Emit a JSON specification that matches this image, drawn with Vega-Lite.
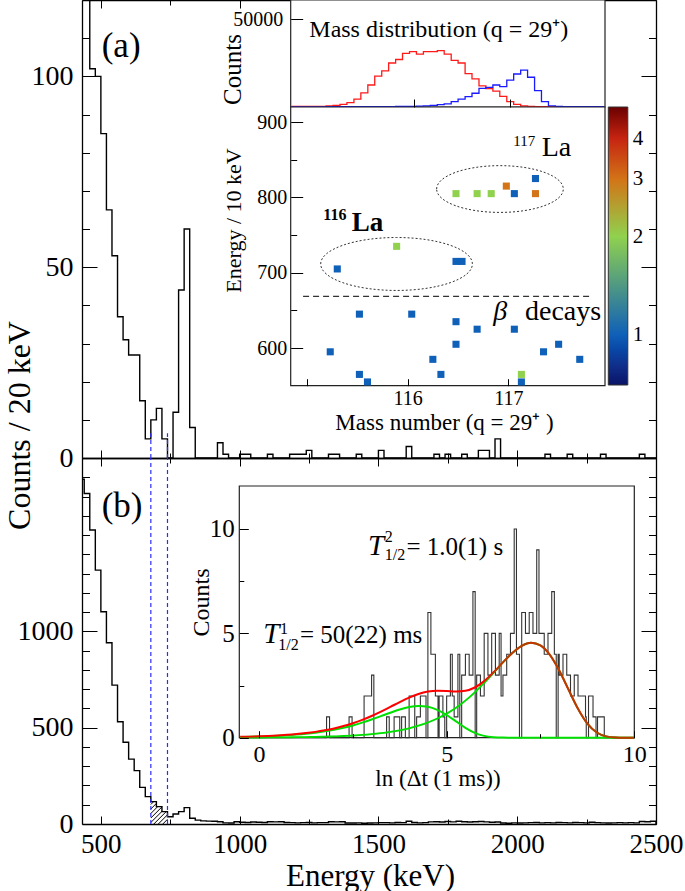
{
"$schema": "https://vega.github.io/schema/vega-lite/v6.json",
"width": 574, "height": 824,
"autosize": {"type": "none"},
"padding": {"left": 82, "top": 0, "right": 29, "bottom": 67},
"background": "white",
"config": {
  "view": {"stroke": null},
  "font": "Liberation Serif",
  "axis": {"grid": false, "labelFont": "Liberation Serif", "titleFont": "Liberation Serif", "labelColor": "black", "titleColor": "black", "tickColor": "black", "domainColor": "black", "titleFontWeight": "normal", "labelFlush": false, "labelOverlap": false, "tickWidth": 1, "domainWidth": 1.3},
  "legend": {"labelFont": "Liberation Serif", "labelColor": "black"},
  "text": {"font": "Liberation Serif", "color": "black"}
},
"datasets": {
  "histA": [{"E":420,"c":140},{"E":440,"c":140},{"E":460,"c":102},{"E":480,"c":100},{"E":500,"c":85},{"E":520,"c":65},{"E":540,"c":53},{"E":560,"c":37},{"E":580,"c":31},{"E":600,"c":27},{"E":620,"c":27},{"E":640,"c":15},{"E":660,"c":5},{"E":680,"c":10},{"E":700,"c":13},{"E":720,"c":5},{"E":740,"c":0},{"E":760,"c":12},{"E":780,"c":44},{"E":800,"c":60},{"E":820,"c":8},{"E":840,"c":0},{"E":920,"c":4},{"E":940,"c":1},{"E":960,"c":0},{"E":1000,"c":1},{"E":1020,"c":1},{"E":1040,"c":0},{"E":1100,"c":1},{"E":1120,"c":0},{"E":1180,"c":1},{"E":1200,"c":1},{"E":1220,"c":1},{"E":1240,"c":2},{"E":1260,"c":0},{"E":1320,"c":1},{"E":1340,"c":1},{"E":1360,"c":0},{"E":1420,"c":1},{"E":1440,"c":0},{"E":1500,"c":2},{"E":1520,"c":0},{"E":1600,"c":3},{"E":1620,"c":0},{"E":1700,"c":1},{"E":1720,"c":0},{"E":1740,"c":1},{"E":1760,"c":0},{"E":1800,"c":1},{"E":1820,"c":0},{"E":1860,"c":2},{"E":1880,"c":2},{"E":1900,"c":0},{"E":1920,"c":5},{"E":1940,"c":0},{"E":2100,"c":1},{"E":2120,"c":0},{"E":2180,"c":1},{"E":2200,"c":0},{"E":2300,"c":1},{"E":2320,"c":0},{"E":2440,"c":1},{"E":2460,"c":0},{"E":2500,"c":0}],
  "histB": [{"E":420,"c":1790},{"E":440,"c":1716},{"E":460,"c":1526},{"E":480,"c":1318},{"E":500,"c":1102},{"E":520,"c":941},{"E":540,"c":721},{"E":560,"c":531},{"E":580,"c":424},{"E":600,"c":337},{"E":620,"c":277},{"E":640,"c":190},{"E":660,"c":142},{"E":680,"c":116},{"E":700,"c":90},{"E":720,"c":64},{"E":740,"c":38},{"E":760,"c":52},{"E":780,"c":64},{"E":800,"c":85},{"E":820,"c":30},{"E":840,"c":20},{"E":860,"c":16},{"E":880,"c":15},{"E":900,"c":14},{"E":920,"c":12},{"E":940,"c":6},{"E":960,"c":5},{"E":980,"c":12},{"E":1000,"c":9},{"E":1020,"c":8},{"E":1040,"c":10},{"E":1060,"c":9},{"E":1080,"c":8},{"E":1100,"c":12},{"E":1120,"c":11},{"E":1140,"c":12},{"E":1160,"c":8},{"E":1180,"c":7},{"E":1200,"c":6},{"E":1220,"c":7},{"E":1240,"c":8},{"E":1260,"c":6},{"E":1280,"c":7},{"E":1300,"c":7},{"E":1320,"c":12},{"E":1340,"c":11},{"E":1360,"c":12},{"E":1380,"c":5},{"E":1400,"c":5},{"E":1420,"c":6},{"E":1440,"c":4},{"E":1460,"c":5},{"E":1480,"c":6},{"E":1500,"c":7},{"E":1520,"c":7},{"E":1540,"c":6},{"E":1560,"c":8},{"E":1580,"c":7},{"E":1600,"c":14},{"E":1620,"c":8},{"E":1640,"c":6},{"E":1660,"c":7},{"E":1680,"c":11},{"E":1700,"c":12},{"E":1720,"c":10},{"E":1740,"c":13},{"E":1760,"c":11},{"E":1780,"c":14},{"E":1800,"c":12},{"E":1820,"c":10},{"E":1840,"c":12},{"E":1860,"c":13},{"E":1880,"c":11},{"E":1900,"c":9},{"E":1920,"c":10},{"E":1940,"c":5},{"E":1960,"c":4},{"E":1980,"c":6},{"E":2000,"c":5},{"E":2020,"c":6},{"E":2040,"c":7},{"E":2060,"c":8},{"E":2080,"c":6},{"E":2100,"c":7},{"E":2120,"c":6},{"E":2140,"c":8},{"E":2160,"c":7},{"E":2180,"c":6},{"E":2200,"c":8},{"E":2220,"c":7},{"E":2240,"c":6},{"E":2260,"c":9},{"E":2280,"c":7},{"E":2300,"c":6},{"E":2320,"c":5},{"E":2340,"c":6},{"E":2360,"c":7},{"E":2380,"c":6},{"E":2400,"c":7},{"E":2420,"c":6},{"E":2440,"c":13},{"E":2460,"c":12},{"E":2480,"c":14},{"E":2500,"c":0}],
  "hatch": [{"hx1":723.2,"hy1":0,"hx2":740,"hy2":24.4},{"hx1":707,"hy1":0,"hx2":740,"hy2":47.8},{"hx1":690.8,"hy1":0,"hx2":735,"hy2":63.8},{"hx1":680,"hy1":7.8,"hx2":720,"hy2":65.4},{"hx1":680,"hy1":31.1,"hx2":720,"hy2":88.8},{"hx1":680,"hy1":54.5,"hx2":704.5,"hy2":89.8},{"hx1":680,"hy1":77.9,"hx2":700,"hy2":106.7},{"hx1":680,"hy1":101.2,"hx2":690,"hy2":115.8}],
  "massRed": [{"m":114.717,"c":300},{"m":114.79,"c":300},{"m":114.862,"c":300},{"m":114.935,"c":350},{"m":115.007,"c":400},{"m":115.08,"c":600},{"m":115.152,"c":900},{"m":115.225,"c":1500},{"m":115.297,"c":2500},{"m":115.37,"c":4500},{"m":115.442,"c":8000},{"m":115.515,"c":12500},{"m":115.587,"c":17500},{"m":115.66,"c":20500},{"m":115.732,"c":25000},{"m":115.805,"c":27000},{"m":115.877,"c":30500},{"m":115.95,"c":31500},{"m":116.022,"c":30000},{"m":116.095,"c":31500},{"m":116.167,"c":31500},{"m":116.24,"c":32000},{"m":116.312,"c":30000},{"m":116.385,"c":26500},{"m":116.457,"c":25000},{"m":116.53,"c":19000},{"m":116.602,"c":16000},{"m":116.675,"c":12000},{"m":116.747,"c":10500},{"m":116.82,"c":9000},{"m":116.892,"c":6000},{"m":116.965,"c":3000},{"m":117.037,"c":1500},{"m":117.11,"c":600},{"m":117.182,"c":300},{"m":117.255,"c":150},{"m":117.98,"c":150}],
  "massBlue": [{"m":114.717,"c":100},{"m":115.08,"c":150},{"m":115.805,"c":300},{"m":115.95,"c":400},{"m":116.022,"c":500},{"m":116.095,"c":600},{"m":116.167,"c":900},{"m":116.24,"c":1300},{"m":116.312,"c":1800},{"m":116.385,"c":3000},{"m":116.457,"c":4500},{"m":116.53,"c":5900},{"m":116.602,"c":7800},{"m":116.675,"c":10600},{"m":116.747,"c":11200},{"m":116.82,"c":12500},{"m":116.892,"c":11600},{"m":116.965,"c":15300},{"m":117.037,"c":18750},{"m":117.11,"c":21000},{"m":117.182,"c":16900},{"m":117.255,"c":9300},{"m":117.327,"c":3000},{"m":117.4,"c":600},{"m":117.472,"c":300},{"m":117.545,"c":200},{"m":117.98,"c":200}],
  "scatter": [{"m":117.27,"e":825,"n":1},{"m":116.98,"e":815,"n":3},{"m":116.48,"e":805,"n":2},{"m":116.69,"e":805,"n":2},{"m":116.83,"e":805,"n":2},{"m":117.06,"e":805,"n":1},{"m":117.27,"e":805,"n":3},{"m":115.89,"e":735,"n":2},{"m":115.3,"e":705,"n":1},{"m":116.48,"e":715,"n":1},{"m":116.54,"e":715,"n":1},{"m":115.52,"e":645,"n":1},{"m":116.04,"e":645,"n":1},{"m":116.48,"e":635,"n":1},{"m":116.69,"e":625,"n":1},{"m":117.06,"e":625,"n":1},{"m":116.48,"e":605,"n":1},{"m":115.23,"e":595,"n":1},{"m":116.25,"e":585,"n":1},{"m":117.35,"e":595,"n":1},{"m":117.5,"e":605,"n":1},{"m":117.71,"e":585,"n":1},{"m":115.52,"e":565,"n":1},{"m":116.33,"e":565,"n":1},{"m":115.6,"e":555,"n":1},{"m":117.13,"e":565,"n":2},{"m":117.13,"e":555,"n":1}],
  "timeHist": [{"t":-0.525,"c":0},{"t":1.8,"c":1},{"t":1.88,"c":0},{"t":2.4,"c":1},{"t":2.48,"c":0},{"t":2.8,"c":2},{"t":2.9,"c":2},{"t":3.0,"c":3},{"t":3.06,"c":0},{"t":3.4,"c":1},{"t":3.47,"c":0},{"t":3.6,"c":1},{"t":3.7,"c":1},{"t":3.75,"c":0},{"t":3.8,"c":1},{"t":3.9,"c":0},{"t":4.0,"c":2},{"t":4.1,"c":2},{"t":4.15,"c":0},{"t":4.2,"c":1},{"t":4.3,"c":2},{"t":4.4,"c":2},{"t":4.45,"c":0},{"t":4.5,"c":6},{"t":4.58,"c":4},{"t":4.7,"c":2},{"t":4.77,"c":0},{"t":4.8,"c":2},{"t":4.9,"c":1},{"t":4.95,"c":0},{"t":5.0,"c":2},{"t":5.1,"c":4},{"t":5.15,"c":2},{"t":5.2,"c":1},{"t":5.3,"c":4},{"t":5.35,"c":0},{"t":5.4,"c":3},{"t":5.5,"c":4},{"t":5.6,"c":3},{"t":5.7,"c":7},{"t":5.76,"c":0},{"t":5.8,"c":3},{"t":5.9,"c":2},{"t":6.0,"c":5},{"t":6.1,"c":3},{"t":6.2,"c":5},{"t":6.3,"c":3},{"t":6.4,"c":5},{"t":6.45,"c":2},{"t":6.5,"c":3},{"t":6.6,"c":4},{"t":6.7,"c":5},{"t":6.8,"c":10},{"t":6.86,"c":4},{"t":6.94,"c":0},{"t":7.0,"c":6},{"t":7.1,"c":5},{"t":7.2,"c":6},{"t":7.3,"c":5},{"t":7.4,"c":9},{"t":7.46,"c":5},{"t":7.6,"c":4},{"t":7.7,"c":5},{"t":7.8,"c":7},{"t":7.87,"c":4},{"t":7.92,"c":0},{"t":7.97,"c":4},{"t":8.0,"c":3},{"t":8.1,"c":4},{"t":8.2,"c":3},{"t":8.3,"c":2},{"t":8.4,"c":3},{"t":8.5,"c":2},{"t":8.6,"c":2},{"t":8.7,"c":1},{"t":8.72,"c":0},{"t":8.78,"c":2},{"t":8.9,"c":1},{"t":8.98,"c":0},{"t":9.02,"c":1},{"t":9.2,"c":0},{"t":10,"c":0}],
  "fit": [{"t":-0.5,"c1":0.0344,"c2":0.0052,"tot":0.0396},{"t":-0.25,"c1":0.0441,"c2":0.0068,"tot":0.0509},{"t":0,"c1":0.0564,"c2":0.0086,"tot":0.065},{"t":0.25,"c1":0.0721,"c2":0.011,"tot":0.0831},{"t":0.5,"c1":0.0922,"c2":0.0142,"tot":0.1064},{"t":0.75,"c1":0.1176,"c2":0.0183,"tot":0.1359},{"t":1,"c1":0.1497,"c2":0.0234,"tot":0.1731},{"t":1.25,"c1":0.1902,"c2":0.03,"tot":0.2202},{"t":1.5,"c1":0.2409,"c2":0.0385,"tot":0.2794},{"t":1.75,"c1":0.304,"c2":0.0494,"tot":0.3534},{"t":2,"c1":0.3815,"c2":0.0633,"tot":0.4448},{"t":2.25,"c1":0.4759,"c2":0.0812,"tot":0.5571},{"t":2.5,"c1":0.5887,"c2":0.104,"tot":0.6927},{"t":2.75,"c1":0.7205,"c2":0.1332,"tot":0.8537},{"t":3,"c1":0.87,"c2":0.1705,"tot":1.0405},{"t":3.25,"c1":1.0322,"c2":0.218,"tot":1.2502},{"t":3.5,"c1":1.1976,"c2":0.2786,"tot":1.4762},{"t":3.75,"c1":1.3501,"c2":0.3554,"tot":1.7055},{"t":4,"c1":1.4665,"c2":0.4526,"tot":1.9191},{"t":4.25,"c1":1.5194,"c2":0.5747,"tot":2.0941},{"t":4.5,"c1":1.4808,"c2":0.728,"tot":2.2088},{"t":4.75,"c1":1.3347,"c2":0.9182,"tot":2.2529},{"t":5,"c1":1.088,"c2":1.1525,"tot":2.2405},{"t":5.25,"c1":0.7795,"c2":1.4369,"tot":2.2164},{"t":5.5,"c1":0.473,"c2":1.7768,"tot":2.2498},{"t":5.75,"c1":0.2321,"c2":2.1735,"tot":2.4056},{"t":6,"c1":0.0866,"c2":2.6231,"tot":2.7097},{"t":6.25,"c1":0.0228,"c2":3.1099,"tot":3.1327},{"t":6.5,"c1":0.0038,"c2":3.6045,"tot":3.6083},{"t":6.75,"c1":0.0004,"c2":4.0577,"tot":4.0581},{"t":7,"c1":0,"c2":4.4008,"tot":4.4008},{"t":7.25,"c1":0,"c2":4.5491,"tot":4.5491},{"t":7.5,"c1":0,"c2":4.4217,"tot":4.4217},{"t":7.75,"c1":0,"c2":3.9712,"tot":3.9712},{"t":8,"c1":0,"c2":3.2219,"tot":3.2219},{"t":8.25,"c1":0,"c2":2.2946,"tot":2.2946},{"t":8.5,"c1":0,"c2":1.3827,"tot":1.3827},{"t":8.75,"c1":0,"c2":0.6716,"tot":0.6716},{"t":9,"c1":0,"c2":0.2477,"tot":0.2477},{"t":9.25,"c1":0,"c2":0.0641,"tot":0.0641},{"t":9.5,"c1":0,"c2":0.0105,"tot":0.0105},{"t":9.75,"c1":0,"c2":0.001,"tot":0.001},{"t":10,"c1":0,"c2":0,"tot":0}]
},
"resolve": {"scale": {"x": "independent", "y": "independent", "color": "independent"}, "axis": {"x": "independent", "y": "independent"}},
"layer": [
  {
    "layer": [
      {
        "data": {"name": "histA"},
        "mark": {"type": "line", "interpolate": "step-after", "color": "black", "strokeWidth": 1.4, "clip": true},
        "encoding": {
          "x": {"field": "E", "type": "quantitative",
                "scale": {"domain": [432, 2500], "range": [0, 574], "nice": false, "zero": false},
                "axis": {"orient": "bottom", "offset": -366, "values": [500,750,1000,1250,1500,1750,2000,2250,2500], "labels": false, "tickSize": {"condition": {"test": "datum.value % 500 === 0", "value": -8}, "value": -5}, "title": null}},
          "y": {"field": "c", "type": "quantitative",
                "scale": {"domain": [0, 120], "range": [458, 0], "nice": false, "zero": false},
                "axis": {"orient": "left", "values": [0,10,20,30,40,50,60,70,80,90,100,110,120], "format": "d", "labelExpr": "datum.value % 50 === 0 ? datum.label : ''", "tickSize": {"condition": {"test": "datum.value % 50 === 0", "value": -15}, "value": -7.5}, "labelPadding": 24, "labelFontSize": 28, "labelFont": "Liberation Serif", "title": "Counts / 20 keV", "titleFont": "Liberation Serif", "titleFontWeight": "normal", "titleFontSize": 32, "titleX": -53, "titleY": 425, "titleAngle": -90, "titleAlign": "center", "titleBaseline": "alphabetic"}}
        }
      },
      {
        "data": {"values": [{"E": 680}, {"E": 740}]},
        "mark": {"type": "rule", "color": "#2b2bff", "strokeDash": [4, 3], "strokeWidth": 1.2},
        "encoding": {"x": {"field": "E", "type": "quantitative"}, "y": {"datum": 0, "type": "quantitative"}, "y2": {"datum": 6.5}}
      },
      {
        "data": {"values": [{"E": 503, "c": 105, "txt": "(a)"}]},
        "mark": {"type": "text", "fontSize": 35, "align": "left", "baseline": "alphabetic"},
        "encoding": {"x": {"field": "E", "type": "quantitative"}, "y": {"field": "c", "type": "quantitative"}, "text": {"field": "txt"}}
      }
    ]
  },
  {
    "data": {"name": "histA"},
    "mark": {"type": "line", "opacity": 0},
    "encoding": {
      "x": {"field": "E", "type": "quantitative",
            "scale": {"domain": [432, 2500], "range": [0, 574], "nice": false, "zero": false},
            "axis": {"orient": "top", "values": [500,750,1000,1250,1500,1750,2000,2250,2500], "labels": false, "tickSize": {"condition": {"test": "datum.value % 500 === 0", "value": -8}, "value": -5}, "title": null}},
      "y": {"field": "c", "type": "quantitative",
            "scale": {"domain": [0, 120], "range": [458, 0], "nice": false, "zero": false},
            "axis": {"orient": "right", "values": [0,10,20,30,40,50,60,70,80,90,100,110,120], "labels": false, "tickSize": {"condition": {"test": "datum.value % 50 === 0", "value": -15}, "value": -7.5}, "title": null}}
    }
  },
  {
    "layer": [
      {
        "data": {"name": "histB"},
        "mark": {"type": "line", "interpolate": "step-after", "color": "black", "strokeWidth": 1.4, "clip": true},
        "encoding": {
          "x": {"field": "E", "type": "quantitative",
                "scale": {"domain": [432, 2500], "range": [0, 574], "nice": false, "zero": false},
                "axis": {"orient": "bottom", "values": [500,750,1000,1250,1500,1750,2000,2250,2500], "format": "d", "labelExpr": "datum.value % 500 === 0 ? datum.label : ''", "tickSize": {"condition": {"test": "datum.value % 500 === 0", "value": -8}, "value": -5}, "labelPadding": 36, "labelBaseline": "alphabetic", "labelFontSize": 27, "labelFont": "Liberation Serif", "title": "Energy (keV)", "titleFont": "Liberation Serif", "titleFontWeight": "normal", "titleFontSize": 31, "titleX": 288, "titleY": 61, "titleAlign": "center", "titleBaseline": "alphabetic"}},
          "y": {"field": "c", "type": "quantitative",
                "scale": {"domain": [0, 1900], "range": [824, 458], "nice": false, "zero": false},
                "axis": {"orient": "left", "values": [0,100,200,300,400,500,600,700,800,900,1000,1100,1200,1300,1400,1500,1600,1700,1800], "format": "d", "labelExpr": "datum.value === 0 || datum.value === 500 || datum.value === 1000 ? datum.label : ''", "tickSize": {"condition": {"test": "datum.value === 0 || datum.value === 500 || datum.value === 1000", "value": -15}, "value": -7.5}, "labelPadding": 24, "labelFontSize": 28, "labelFont": "Liberation Serif", "title": null}}
        }
      },
      {
        "data": {"name": "hatch"},
        "mark": {"type": "rule", "color": "black", "strokeWidth": 1},
        "encoding": {"x": {"field": "hx1", "type": "quantitative"}, "x2": {"field": "hx2"}, "y": {"field": "hy1", "type": "quantitative"}, "y2": {"field": "hy2"}}
      },
      {
        "data": {"values": [{"E": 680}, {"E": 740}]},
        "mark": {"type": "rule", "color": "#2b2bff", "strokeDash": [4, 3], "strokeWidth": 1.2},
        "encoding": {"x": {"field": "E", "type": "quantitative"}, "y": {"datum": 0, "type": "quantitative"}, "y2": {"datum": 1900}}
      },
      {
        "data": {"values": [{"E": 503, "c": 1594, "txt": "(b)"}]},
        "mark": {"type": "text", "fontSize": 35, "align": "left", "baseline": "alphabetic"},
        "encoding": {"x": {"field": "E", "type": "quantitative"}, "y": {"field": "c", "type": "quantitative"}, "text": {"field": "txt"}}
      }
    ]
  },
  {
    "data": {"name": "histB"},
    "mark": {"type": "line", "opacity": 0},
    "encoding": {
      "x": {"field": "E", "type": "quantitative",
            "scale": {"domain": [432, 2500], "range": [0, 574], "nice": false, "zero": false},
            "axis": {"orient": "top", "offset": -458, "values": [500,750,1000,1250,1500,1750,2000,2250,2500], "labels": false, "tickSize": {"condition": {"test": "datum.value % 500 === 0", "value": -8}, "value": -5}, "title": null}},
      "y": {"field": "c", "type": "quantitative",
            "scale": {"domain": [0, 1900], "range": [824, 458], "nice": false, "zero": false},
            "axis": {"orient": "right", "values": [0,100,200,300,400,500,600,700,800,900,1000,1100,1200,1300,1400,1500,1600,1700,1800], "labels": false, "tickSize": {"condition": {"test": "datum.value === 0 || datum.value === 500 || datum.value === 1000", "value": -15}, "value": -7.5}, "title": null}}
    }
  },
  {
    "layer": [
      {
        "data": {"values": [{"k": 1}]},
        "mark": {"type": "rect", "fill": "white", "stroke": "#222", "strokeWidth": 1.2},
        "encoding": {
          "x": {"datum": 114.71, "type": "quantitative",
                "scale": {"domain": [114.71, 117.99], "range": [208.7, 523], "nice": false, "zero": false},
                "axis": {"orient": "bottom", "offset": -717, "values": [116, 117], "labels": false, "tickSize": -8, "domain": false, "title": null, "zindex": 1}},
          "x2": {"datum": 117.99},
          "y": {"datum": 0, "type": "quantitative",
                "scale": {"domain": [0, 60800], "range": [107, 0], "nice": false, "zero": false},
                "axis": {"orient": "left", "offset": -208.7, "values": [50000], "format": "d", "tickSize": -12, "labelPadding": 20, "labelFontSize": 20, "labelFont": "Liberation Serif", "domain": false, "title": "Counts", "titleFont": "Liberation Serif", "titleFontWeight": "normal", "titleFontSize": 25, "titleX": -50.7, "titleY": 69, "titleAngle": -90, "titleAlign": "center", "titleBaseline": "alphabetic", "zindex": 1}},
          "y2": {"datum": 60800}
        }
      },
      {
        "data": {"name": "massRed"},
        "mark": {"type": "line", "interpolate": "step-after", "color": "#ff1a1a", "strokeWidth": 1.3},
        "encoding": {"x": {"field": "m", "type": "quantitative"}, "y": {"field": "c", "type": "quantitative"}}
      },
      {
        "data": {"name": "massBlue"},
        "mark": {"type": "line", "interpolate": "step-after", "color": "#1a1aff", "strokeWidth": 1.3},
        "encoding": {"x": {"field": "m", "type": "quantitative"}, "y": {"field": "c", "type": "quantitative"}}
      },
      {
        "data": {"values": [{"m": 114.904, "c": 39600, "txt": "Mass distribution (q = 29⁺)"}]},
        "mark": {"type": "text", "fontSize": 24, "align": "left", "baseline": "alphabetic"},
        "encoding": {"x": {"field": "m", "type": "quantitative"}, "y": {"field": "c", "type": "quantitative"}, "text": {"field": "txt"}}
      }
    ]
  },
  {
    "layer": [
      {
        "data": {"values": [{"k": 1}]},
        "mark": {"type": "rect", "fill": "white", "stroke": "#222", "strokeWidth": 1.2},
        "encoding": {
          "x": {"datum": 114.837, "type": "quantitative",
                "scale": {"domain": [114.837, 117.961], "range": [208.7, 523], "nice": false, "zero": false},
                "axis": {"orient": "bottom", "offset": -438.3, "values": [115, 116, 117], "format": "d", "labelExpr": "datum.value === 115 ? '' : datum.label", "tickSize": -7, "labelPadding": 25.5, "labelBaseline": "alphabetic", "labelFontSize": 20, "labelFont": "Liberation Serif", "domain": false, "title": "Mass number (q = 29⁺ )", "titleFont": "Liberation Serif", "titleFontWeight": "normal", "titleFontSize": 23, "titleX": 362, "titleY": 43.5, "titleAlign": "center", "titleBaseline": "alphabetic", "zindex": 1}},
          "x2": {"datum": 117.961},
          "y": {"datum": 550, "type": "quantitative",
                "scale": {"domain": [550, 920], "range": [385.7, 107], "nice": false, "zero": false},
                "axis": {"orient": "left", "offset": -208.7, "values": [600, 650, 700, 750, 800, 850, 900], "format": "d", "labelExpr": "datum.value % 100 === 0 ? datum.label : ''", "tickSize": {"condition": {"test": "datum.value % 100 === 0", "value": -12}, "value": -6}, "labelPadding": 16, "labelFontSize": 20, "labelFont": "Liberation Serif", "domain": false, "title": "Energy / 10 keV", "titleFont": "Liberation Serif", "titleFontWeight": "normal", "titleFontSize": 22, "titleX": -50.7, "titleY": 220, "titleAngle": -90, "titleAlign": "center", "titleBaseline": "alphabetic", "zindex": 1}},
          "y2": {"datum": 920}
        }
      },
      {
        "data": {"values": [{"k": 1}]},
        "mark": {"type": "rule", "color": "#333", "strokeDash": [6, 4], "strokeWidth": 1.2},
        "encoding": {"x": {"datum": 114.96, "type": "quantitative"}, "x2": {"datum": 117.83}, "y": {"datum": 668.5, "type": "quantitative"}}
      },
      {
        "data": {"values": [{"m": 116.917, "e": 811.1}]},
        "mark": {"type": "point", "shape": "M -1 0 A 1 0.369 0 1 1 1 0 A 1 0.369 0 1 1 -1 0 Z", "size": 16053, "filled": false, "stroke": "#333", "strokeWidth": 1, "strokeDash": [2, 2], "opacity": 1},
        "encoding": {"x": {"field": "m", "type": "quantitative"}, "y": {"field": "e", "type": "quantitative"}}
      },
      {
        "data": {"values": [{"m": 115.889, "e": 711.6}]},
        "mark": {"type": "point", "shape": "M -1 0 A 1 0.349 0 1 1 1 0 A 1 0.349 0 1 1 -1 0 Z", "size": 23013, "filled": false, "stroke": "#333", "strokeWidth": 1, "strokeDash": [2, 2], "opacity": 1},
        "encoding": {"x": {"field": "m", "type": "quantitative"}, "y": {"field": "e", "type": "quantitative"}}
      },
      {
        "data": {"name": "scatter"},
        "mark": {"type": "point", "shape": "square", "filled": true, "size": 50, "opacity": 1},
        "encoding": {
          "x": {"field": "m", "type": "quantitative"},
          "y": {"field": "e", "type": "quantitative"},
          "color": {"field": "n", "type": "quantitative",
                    "scale": {"type": "log", "domain": [0.7, 0.852, 1.037, 1.262, 1.536, 1.87, 2.276, 2.771, 3.373, 4.105, 5], "range": ["#0a1466", "#0d3a9c", "#1569bd", "#1896c8", "#28b4bc", "#80cc5a", "#b4d832", "#d08a1e", "#d2501a", "#c41a10", "#6a0000"]},
                    "legend": {"orient": "none", "legendX": 526.3, "legendY": 107, "direction": "vertical", "gradientLength": 278, "gradientThickness": 19.5, "title": null, "values": [1, 2, 3, 4], "labelFontSize": 21, "labelFont": "Liberation Serif", "labelOffset": 5, "labelOverlap": false, "gradientStrokeColor": "#333", "gradientStrokeWidth": 1}}
        }
      },
      {
        "data": {"values": [{"m": 117.332, "e": 854.3, "txt": "La"}, {"m": 117.166, "e": 637.6, "txt": "decays"}]},
        "mark": {"type": "text", "fontSize": 28, "align": "left", "baseline": "alphabetic"},
        "encoding": {"x": {"field": "m", "type": "quantitative"}, "y": {"field": "e", "type": "quantitative"}, "text": {"field": "txt"}}
      },
      {
        "data": {"values": [{"m": 117.05, "e": 867.6, "txt": "117"}]},
        "mark": {"type": "text", "fontSize": 15, "align": "left", "baseline": "alphabetic"},
        "encoding": {"x": {"field": "m", "type": "quantitative"}, "y": {"field": "e", "type": "quantitative"}, "text": {"field": "txt"}}
      },
      {
        "data": {"values": [{"m": 115.443, "e": 754.8, "txt": "La"}]},
        "mark": {"type": "text", "fontSize": 27, "fontWeight": "bold", "align": "left", "baseline": "alphabetic"},
        "encoding": {"x": {"field": "m", "type": "quantitative"}, "y": {"field": "e", "type": "quantitative"}, "text": {"field": "txt"}}
      },
      {
        "data": {"values": [{"m": 115.161, "e": 770.3, "txt": "116"}]},
        "mark": {"type": "text", "fontSize": 16, "fontWeight": "bold", "align": "left", "baseline": "alphabetic"},
        "encoding": {"x": {"field": "m", "type": "quantitative"}, "y": {"field": "e", "type": "quantitative"}, "text": {"field": "txt"}}
      },
      {
        "data": {"values": [{"m": 116.851, "e": 637.6, "txt": "β"}]},
        "mark": {"type": "text", "fontSize": 28, "fontStyle": "italic", "align": "left", "baseline": "alphabetic"},
        "encoding": {"x": {"field": "m", "type": "quantitative"}, "y": {"field": "e", "type": "quantitative"}, "text": {"field": "txt"}}
      }
    ]
  },
  {
    "layer": [
      {
        "data": {"values": [{"k": 1}]},
        "mark": {"type": "rect", "fill": "white", "stroke": "#222", "strokeWidth": 1.2},
        "encoding": {
          "x": {"datum": -0.525, "type": "quantitative",
                "scale": {"domain": [-0.525, 10], "range": [157.3, 552.3], "nice": false, "zero": false},
                "axis": {"orient": "bottom", "offset": -86.3, "values": [0, 2.5, 5, 7.5, 10], "format": "d", "labelExpr": "datum.value % 5 === 0 ? datum.label : ''", "tickSize": {"condition": {"test": "datum.value % 5 === 0", "value": -7}, "value": -4}, "labelPadding": 31, "labelBaseline": "alphabetic", "labelFontSize": 24, "labelFont": "Liberation Serif", "domain": false, "title": "ln (Δt (1 ms))", "titleFont": "Liberation Serif", "titleFontWeight": "normal", "titleFontSize": 23, "titleX": 355.5, "titleY": 48, "titleAlign": "center", "titleBaseline": "alphabetic", "zindex": 1}},
          "x2": {"datum": 10},
          "y": {"datum": 0, "type": "quantitative",
                "scale": {"domain": [0, 12.06], "range": [737.7, 486], "nice": false, "zero": false},
                "axis": {"orient": "left", "offset": -157.3, "values": [0, 2.5, 5, 7.5, 10], "format": "d", "labelExpr": "datum.value % 5 === 0 ? datum.label : ''", "tickSize": {"condition": {"test": "datum.value % 5 === 0", "value": -9}, "value": -4.5}, "labelPadding": 14, "labelFontSize": 25, "labelFont": "Liberation Serif", "domain": false, "title": "Counts", "titleFont": "Liberation Serif", "titleFontWeight": "normal", "titleFontSize": 24, "titleX": -31, "titleY": 602, "titleAngle": -90, "titleAlign": "center", "titleBaseline": "alphabetic", "zindex": 1}},
          "y2": {"datum": 12.06}
        }
      },
      {
        "data": {"name": "timeHist"},
        "mark": {"type": "line", "interpolate": "step-after", "color": "#333", "strokeWidth": 1.1},
        "encoding": {"x": {"field": "t", "type": "quantitative"}, "y": {"field": "c", "type": "quantitative"}}
      },
      {
        "data": {"name": "fit"},
        "mark": {"type": "line", "interpolate": "monotone", "color": "#00e000", "strokeWidth": 2},
        "encoding": {"x": {"field": "t", "type": "quantitative"}, "y": {"field": "c1", "type": "quantitative"}}
      },
      {
        "data": {"name": "fit"},
        "mark": {"type": "line", "interpolate": "monotone", "color": "#00e000", "strokeWidth": 1.8},
        "encoding": {"x": {"field": "t", "type": "quantitative"}, "y": {"field": "c2", "type": "quantitative"}}
      },
      {
        "data": {"name": "fit"},
        "mark": {"type": "line", "interpolate": "monotone", "color": "#ff0000", "strokeWidth": 2},
        "encoding": {"x": {"field": "t", "type": "quantitative"}, "y": {"field": "tot", "type": "quantitative"}}
      },
      {
        "data": {"name": "fit"},
        "mark": {"type": "line", "interpolate": "monotone", "color": "#00e000", "strokeWidth": 1.6, "opacity": 0.28},
        "encoding": {"x": {"field": "t", "type": "quantitative"}, "y": {"field": "c2", "type": "quantitative"}}
      },
      {
        "data": {"values": [{"t": 0.114, "c": 4.52, "txt": "T"}, {"t": 2.907, "c": 8.75, "txt": "T"}]},
        "mark": {"type": "text", "fontSize": 29, "fontStyle": "italic", "align": "left", "baseline": "alphabetic"},
        "encoding": {"x": {"field": "t", "type": "quantitative"}, "y": {"field": "c", "type": "quantitative"}, "text": {"field": "txt"}}
      },
      {
        "data": {"values": [{"t": 0.559, "c": 4.99, "txt": "1"}, {"t": 0.513, "c": 4.2, "txt": "1/2"}, {"t": 3.351, "c": 9.39, "txt": "2"}, {"t": 3.351, "c": 8.51, "txt": "1/2"}]},
        "mark": {"type": "text", "fontSize": 16, "align": "left", "baseline": "alphabetic"},
        "encoding": {"x": {"field": "t", "type": "quantitative"}, "y": {"field": "c", "type": "quantitative"}, "text": {"field": "txt"}}
      },
      {
        "data": {"values": [{"t": 1.09, "c": 4.52, "txt": "= 50(22) ms"}, {"t": 3.928, "c": 8.75, "txt": "= 1.0(1) s"}]},
        "mark": {"type": "text", "fontSize": 25, "align": "left", "baseline": "alphabetic"},
        "encoding": {"x": {"field": "t", "type": "quantitative"}, "y": {"field": "c", "type": "quantitative"}, "text": {"field": "txt"}}
      }
    ]
  }
]
}
